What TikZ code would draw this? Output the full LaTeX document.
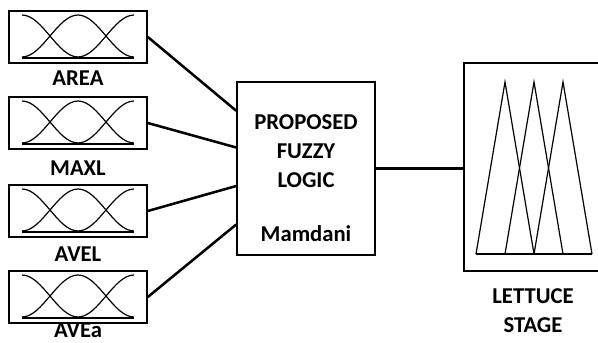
\documentclass[tikz,border=0pt]{standalone}
\usepackage{fontspec}
\setmainfont{Carlito}
\usetikzlibrary{calc}
\begin{document}
\begin{tikzpicture}[
        % 全局設定:1 單位 = 1 像素,y 向下
        x=0.75pt, y=-0.75pt,
        % 輸入方塊樣式
        input_box/.style={
            draw=black,
            line width=1.2pt,
            minimum width=103.5pt,
            minimum height=39pt,
            inner sep=0pt
        },
        % 中央與輸出方塊樣式
        big_box/.style={
            draw=black,
            line width=1.2pt,
            inner sep=0pt
        },
        % 連接線樣式
        link_line/.style={
            draw=black,
            line width=1.9pt
        },
        % 歸屬函數曲線樣式
        mf_line/.style={
            draw=black,
            line width=0.9pt
        },
        % 文字樣式
        label_text/.style={
            font=\bfseries\fontsize{17}{21.5}\selectfont,
            inner sep=0pt,
            align=center
        }
    ]
        \clip (0,0) rectangle (598,342);

        % ==========================
        % 中央:模糊邏輯方塊
        % ==========================
        \node[big_box, minimum width=103.5pt, minimum height=130pt] (fuzzy) at (306,168.5) {};
        \node[label_text] (fuzzy_text) at (306,178) {PROPOSED\\FUZZY\\LOGIC\\[19pt]Mamdani};

        % ==========================
        % 左側:四個輸入
        % ==========================
        \foreach \lab/\y/\ly/\f [count=\i] in {AREA/37/78/0.17, MAXL/123/168/0.38, AVEL/211/254/0.60, AVEa/297/330/0.82} {
            % 1. 方塊與標籤
            \node[input_box] (in\i) at (78,\y) {};
            \node[label_text] (lab\i) at (78,\ly) {\lab};

            % 2. 歸屬函數 (三條曲線 + 底線)
            \begin{scope}[shift={(78,\y)}]
                \draw[mf_line] (-56,-22) cos (-28,-1) sin (0,20);
                \draw[mf_line] (-56,20) cos (-28,-1) sin (0,-22) cos (28,-1) sin (56,20);
                \draw[mf_line] (0,20) cos (28,-1) sin (56,-22);
                \draw[mf_line, line width=1.4pt] (-56,21) -- (56,21);
            \end{scope}

            % 3. 連接到中央方塊
            \coordinate (f\i) at ($(fuzzy.north west)!\f!(fuzzy.south west)$);
            \draw[link_line] (in\i.east) -- (f\i);
        }

        % ==========================
        % 右側:輸出 (萵苣階段)
        % ==========================
        \node[big_box, minimum width=112.5pt, minimum height=156pt] (stage) at (539,167) {};
        \node[label_text] (stage_text) at (533,310.5) {LETTUCE\\STAGE};
        \draw[link_line] (fuzzy.east) -- (fuzzy.east -| stage.west);

        % 三角形歸屬函數
        \foreach \p in {505,534,563} {
            \draw[mf_line] (\p-29,254) -- (\p,82) -- (\p+29,254);
        }
        \draw[mf_line, line width=1.2pt] (476,254) -- (592,254);

\end{tikzpicture}
\end{document}
